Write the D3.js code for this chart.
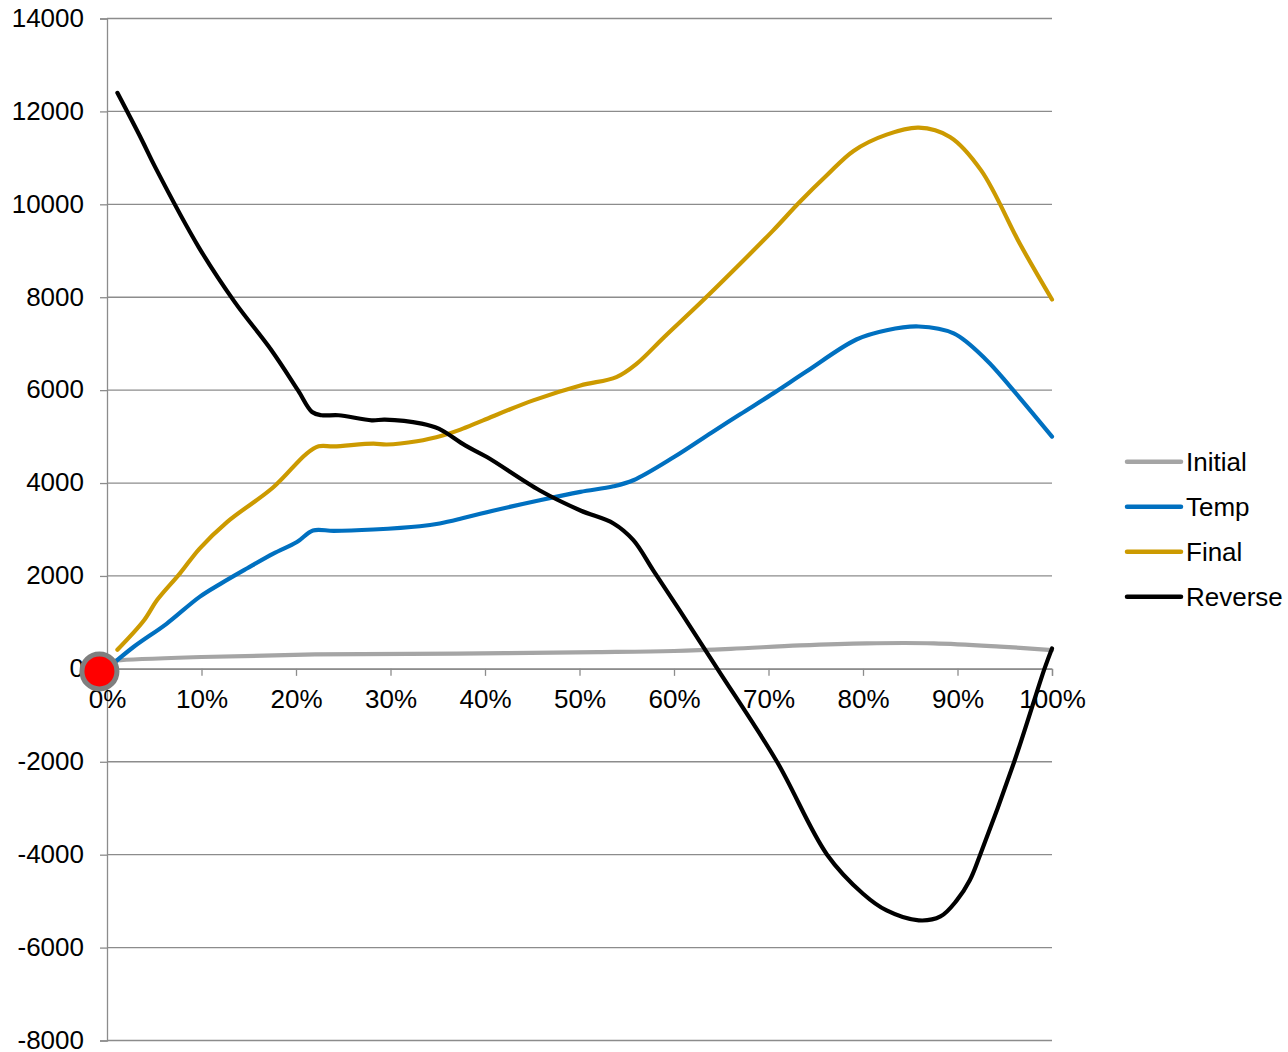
<!DOCTYPE html>
<html>
<head>
<meta charset="utf-8">
<script src="https://cdn.jsdelivr.net/npm/d3@7"></script>
<style>
  html, body { margin: 0; padding: 0; background: #ffffff; }
  svg { display: block; }
  text { font-family: "Liberation Sans", Arial, sans-serif; fill: #000; }
</style>
</head>
<body>
<svg id="chart" width="1288" height="1052"></svg>
<script>
// Series names, in legend order
const seriesNames = ["Initial", "Temp", "Final", "Reverse"];
const seriesColors = ["#a5a5a5", "#0070c0", "#cc9a00", "#000000"];

// Axis tick labels
const xTickValues = [0, 0.1, 0.2, 0.3, 0.4, 0.5, 0.6, 0.7, 0.8, 0.9, 1.0];
const xTickLabels = ["0%", "10%", "20%", "30%", "40%", "50%", "60%", "70%", "80%", "90%", "100%"];
const yTickValues = [-8000, -6000, -4000, -2000, 0, 2000, 4000, 6000, 8000, 10000, 12000, 14000];
const yTickLabels = ["-8000", "-6000", "-4000", "-2000", "0", "2000", "4000", "6000", "8000", "10000", "12000", "14000"];

// Each series: [fraction of progress, value]
const initialData = [
  [0.000, 150], [0.010, 180], [0.100, 255], [0.220, 310], [0.370, 330], [0.520, 360],
  [0.600, 385], [0.660, 430], [0.733, 505], [0.804, 550], [0.875, 550],
  [0.945, 480], [1.000, 405]
];
const tempData = [
  [0.000, 0], [0.028, 470], [0.063, 970], [0.098, 1550], [0.120, 1830], [0.148, 2160],
  [0.176, 2480], [0.201, 2730], [0.218, 2980], [0.240, 2970], [0.282, 3000], [0.331, 3070],
  [0.352, 3130], [0.374, 3230], [0.395, 3340], [0.458, 3630], [0.501, 3810], [0.536, 3930],
  [0.557, 4060], [0.600, 4560], [0.640, 5090], [0.670, 5480], [0.705, 5930], [0.740, 6400],
  [0.793, 7090], [0.825, 7290], [0.859, 7370], [0.896, 7220], [0.930, 6660], [0.956, 6070],
  [1.000, 5000]
];
const finalData = [
  [0.011, 410], [0.039, 1040], [0.053, 1480], [0.077, 2050], [0.098, 2590], [0.127, 3160],
  [0.176, 3910], [0.211, 4630], [0.224, 4790], [0.240, 4790], [0.282, 4850], [0.296, 4830],
  [0.328, 4900], [0.356, 5030], [0.374, 5150], [0.398, 5350], [0.451, 5780], [0.501, 6100],
  [0.539, 6280], [0.560, 6560], [0.590, 7150], [0.628, 7880], [0.670, 8720], [0.705, 9440],
  [0.733, 10050], [0.762, 10630], [0.790, 11150], [0.825, 11500], [0.859, 11650], [0.892, 11450],
  [0.925, 10730], [0.966, 9150], [1.000, 7950]
];
const reverseData = [
  [0.011, 12400], [0.037, 11380], [0.051, 10800], [0.097, 9080], [0.135, 7900], [0.174, 6860],
  [0.202, 6000], [0.217, 5530], [0.227, 5460], [0.245, 5460], [0.280, 5350], [0.294, 5365],
  [0.333, 5280], [0.351, 5170], [0.379, 4810], [0.402, 4560], [0.458, 3840], [0.501, 3410],
  [0.536, 3130], [0.557, 2770], [0.578, 2120], [0.606, 1260], [0.646, 0],
  [0.709, -2000], [0.762, -4000], [0.800, -4840], [0.825, -5200], [0.859, -5415], [0.882, -5330],
  [0.899, -4990], [0.913, -4550], [0.924, -4000], [0.960, -2000], [0.992, 0], [1.000, 440]
];
const seriesData = [initialData, tempData, finalData, reverseData];

// Highlighted marker near the origin
const markerPoint = [-0.008, -55];

const svg = d3.select("#chart");
const x = d3.scaleLinear().domain([0, 1]).range([107, 1052]);
const y = d3.scaleLinear().domain([-8000, 14000]).range([1040.5, 18.5]);

const gridColor = "#8c8c8c";
const fontSize = 26;

// Horizontal gridlines
svg.append("g")
  .selectAll("line")
  .data(yTickValues)
  .join("line")
  .attr("x1", x(0)).attr("x2", x(1))
  .attr("y1", d => y(d)).attr("y2", d => y(d))
  .attr("stroke", gridColor)
  .attr("stroke-width", 1.3);

// Value axis
const yAxis = svg.append("g")
  .attr("transform", `translate(${x(0)},0)`)
  .call(d3.axisLeft(y).tickValues(yTickValues).tickSize(7).tickPadding(16)
    .tickFormat((d, i) => yTickLabels[i]));
yAxis.select(".domain").attr("stroke", gridColor).attr("stroke-width", 1.3);
yAxis.selectAll(".tick line").attr("stroke", gridColor).attr("stroke-width", 1.3);
yAxis.selectAll(".tick text")
  .attr("dy", "0.3em")
  .attr("font-size", fontSize)
  .attr("font-family", "Liberation Sans, Arial, sans-serif")
  .attr("fill", "#000");

// Category axis along zero
const xAxis = svg.append("g")
  .attr("transform", `translate(0,${y(0)})`)
  .call(d3.axisBottom(x).tickValues(xTickValues).tickSize(7).tickPadding(14)
    .tickFormat((d, i) => xTickLabels[i]));
xAxis.select(".domain").attr("stroke", gridColor).attr("stroke-width", 1.3);
xAxis.selectAll(".tick line").attr("stroke", gridColor).attr("stroke-width", 1.3);
xAxis.selectAll(".tick text")
  .attr("font-size", fontSize)
  .attr("font-family", "Liberation Sans, Arial, sans-serif")
  .attr("fill", "#000");

// Smoothed series lines
const line = d3.line()
  .x(d => x(d[0]))
  .y(d => y(d[1]))
  .curve(d3.curveCatmullRom.alpha(0.5));

svg.append("g")
  .selectAll("path")
  .data(seriesData)
  .join("path")
  .attr("d", line)
  .attr("fill", "none")
  .attr("stroke", (d, i) => seriesColors[i])
  .attr("stroke-width", 4.2)
  .attr("stroke-linecap", "round")
  .attr("stroke-linejoin", "round");

// Origin marker
svg.append("circle")
  .attr("cx", x(markerPoint[0]))
  .attr("cy", y(markerPoint[1]))
  .attr("r", 17.5)
  .attr("fill", "#ff0000")
  .attr("stroke", "#7f7f7f")
  .attr("stroke-width", 5);

// Legend
const legend = svg.append("g").attr("transform", "translate(1127,461.7)");
const item = legend.selectAll("g")
  .data(seriesNames)
  .join("g")
  .attr("transform", (d, i) => `translate(0,${i * 45})`);
item.append("line")
  .attr("x1", 0).attr("x2", 54)
  .attr("stroke", (d, i) => seriesColors[i])
  .attr("stroke-width", 4.5)
  .attr("stroke-linecap", "round");
item.append("text")
  .attr("x", 59)
  .attr("dy", "0.35em")
  .attr("font-size", fontSize)
  .text(d => d);
</script>
</body>
</html>
